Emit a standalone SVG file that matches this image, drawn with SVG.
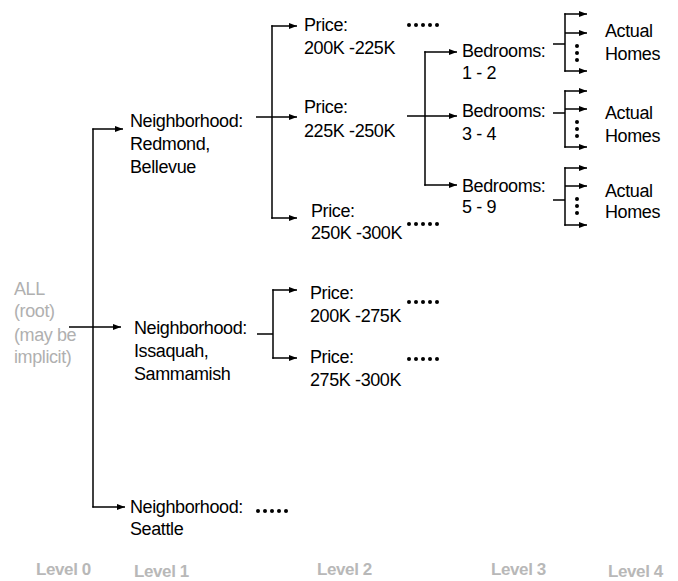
<svg xmlns="http://www.w3.org/2000/svg" width="678" height="581" viewBox="0 0 678 581">
<defs>
<marker id="ah" markerUnits="userSpaceOnUse" markerWidth="8" markerHeight="6" refX="8" refY="3" orient="auto">
<path d="M0,0 L8,3 L0,6 z" fill="#000"/>
</marker>
<style>
text{font-family:"Liberation Sans",Arial,sans-serif;font-size:18px;letter-spacing:-0.4px;fill:#000}
.g{fill:#b0b0b0}
.lv{fill:#b8b8b8;font-weight:bold;font-size:17px}
.c line,.c path{stroke:#000;stroke-width:1.5;fill:none}
.a{marker-end:url(#ah)}
.d circle{fill:#000}
</style>
</defs>
<rect width="678" height="581" fill="#fff"/>

<g id="connectors" class="c">
<line x1="93" y1="128.5" x2="93" y2="507.5"/>
<line class="a" x1="92.3" y1="129" x2="123" y2="129"/>
<line class="a" x1="69" y1="327" x2="121" y2="327"/>
<line class="a" x1="92.3" y1="507" x2="125" y2="507"/>
<line x1="272" y1="25.3" x2="272" y2="218.7"/>
<line class="a" x1="256" y1="117" x2="297" y2="117"/>
<line class="a" x1="271.3" y1="26" x2="297" y2="26"/>
<line class="a" x1="271.3" y1="218" x2="297" y2="218"/>
<line x1="425" y1="51.3" x2="425" y2="185.7"/>
<line class="a" x1="407" y1="116" x2="457" y2="116"/>
<line class="a" x1="424.3" y1="52" x2="457" y2="52"/>
<line class="a" x1="424.3" y1="185" x2="457" y2="185"/>
<line x1="553" y1="44" x2="565" y2="44"/>
<line x1="565" y1="13.3" x2="565" y2="71.7"/>
<line class="a" x1="564.3" y1="14" x2="587" y2="14"/>
<line class="a" x1="565" y1="33" x2="587" y2="33"/>
<line class="a" x1="564.3" y1="71" x2="587" y2="71"/>
<line x1="553" y1="113" x2="565" y2="113"/>
<line x1="565" y1="90.3" x2="565" y2="147.7"/>
<line class="a" x1="564.3" y1="91" x2="587" y2="91"/>
<line class="a" x1="565" y1="109" x2="587" y2="109"/>
<line class="a" x1="564.3" y1="147" x2="587" y2="147"/>
<line x1="553" y1="200" x2="565" y2="200"/>
<line x1="565" y1="167.3" x2="565" y2="225.7"/>
<line class="a" x1="564.3" y1="168" x2="587" y2="168"/>
<line class="a" x1="565" y1="186" x2="587" y2="186"/>
<line class="a" x1="564.3" y1="225" x2="587" y2="225"/>
<line x1="257" y1="334" x2="273" y2="334"/>
<line x1="273" y1="289.3" x2="273" y2="358.7"/>
<line class="a" x1="272.3" y1="290" x2="297" y2="290"/>
<line class="a" x1="272.3" y1="358" x2="297" y2="358"/>
</g>

<g id="ellipses" class="d">
<g transform="translate(409,25)"><circle cx="0" r="2"/><circle cx="7" r="2"/><circle cx="14" r="2"/><circle cx="21" r="2"/><circle cx="28" r="2"/></g>
<g transform="translate(409,224)"><circle cx="0" r="2"/><circle cx="7" r="2"/><circle cx="14" r="2"/><circle cx="21" r="2"/><circle cx="28" r="2"/></g>
<g transform="translate(409,302)"><circle cx="0" r="2"/><circle cx="7" r="2"/><circle cx="14" r="2"/><circle cx="21" r="2"/><circle cx="28" r="2"/></g>
<g transform="translate(409,359)"><circle cx="0" r="2"/><circle cx="7" r="2"/><circle cx="14" r="2"/><circle cx="21" r="2"/><circle cx="28" r="2"/></g>
<g transform="translate(258,511)"><circle cx="0" r="2"/><circle cx="7" r="2"/><circle cx="14" r="2"/><circle cx="21" r="2"/><circle cx="28" r="2"/></g>
<g transform="translate(577,0)"><circle cy="46" r="2"/><circle cy="53" r="2"/><circle cy="60" r="2"/></g>
<g transform="translate(577,0)"><circle cy="122" r="2"/><circle cy="129" r="2"/><circle cy="136" r="2"/></g>
<g transform="translate(577,0)"><circle cy="199" r="2"/><circle cy="206" r="2"/><circle cy="213" r="2"/></g>
</g>

<g id="root"><text class="g" x="14" y="295">ALL</text><text class="g" x="14" y="317">(root)</text><text class="g" x="14" y="341">(may be</text><text class="g" x="14" y="363">implicit)</text></g>

<g id="n-redmond"><text x="130" y="127">Neighborhood:</text><text x="130" y="150">Redmond,</text><text x="130" y="173">Bellevue</text></g>
<g id="n-issaquah"><text x="134" y="334">Neighborhood:</text><text x="134" y="357">Issaquah,</text><text x="134" y="380">Sammamish</text></g>
<g id="n-seattle"><text x="130" y="513">Neighborhood:</text><text x="130" y="535">Seattle</text></g>

<g id="p-200-225"><text x="304" y="31">Price:</text><text x="304" y="54">200K -225K</text></g>
<g id="p-225-250"><text x="304" y="113">Price:</text><text x="304" y="137">225K -250K</text></g>
<g id="p-250-300"><text x="311" y="217">Price:</text><text x="311" y="239">250K -300K</text></g>
<g id="p-200-275"><text x="310" y="299">Price:</text><text x="310" y="322">200K -275K</text></g>
<g id="p-275-300"><text x="310" y="363">Price:</text><text x="310" y="386">275K -300K</text></g>

<g id="b-1-2"><text x="462" y="57">Bedrooms:</text><text x="462" y="79">1 - 2</text></g>
<g id="b-3-4"><text x="462" y="117">Bedrooms:</text><text x="462" y="140">3 - 4</text></g>
<g id="b-5-9"><text x="462" y="192">Bedrooms:</text><text x="462" y="213">5 - 9</text></g>

<g id="homes-1"><text x="605" y="37">Actual</text><text x="605" y="60">Homes</text></g>
<g id="homes-2"><text x="605" y="119">Actual</text><text x="605" y="142">Homes</text></g>
<g id="homes-3"><text x="605" y="197">Actual</text><text x="605" y="218">Homes</text></g>

<g id="levels">
<text class="lv" x="36" y="575">Level 0</text>
<text class="lv" x="134" y="577">Level 1</text>
<text class="lv" x="317" y="575">Level 2</text>
<text class="lv" x="491" y="575">Level 3</text>
<text class="lv" x="608" y="577">Level 4</text>
</g>
</svg>
